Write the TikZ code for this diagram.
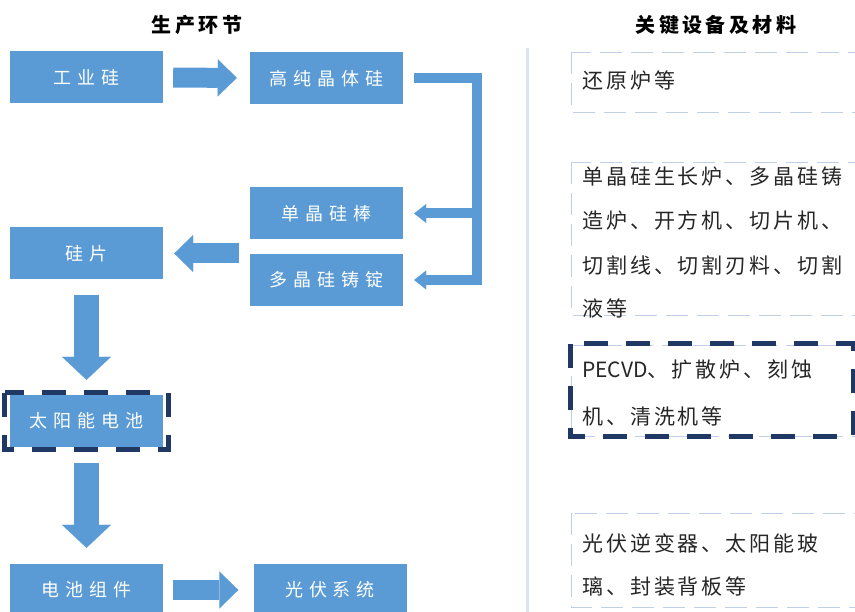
\documentclass[tikz,border=0pt]{standalone}
\usepackage{fontspec}
\setmainfont{Noto Sans CJK SC}
\newfontfamily\boxfont[LetterSpace=33]{Noto Sans CJK SC}
\newfontfamily\listfont[LetterSpace=14]{Noto Sans CJK SC}
\newfontfamily\latinfont{Noto Sans CJK SC}
\newfontfamily\titlefont[LetterSpace=17]{Noto Sans CJK SC}
\usetikzlibrary{arrows.meta}
\definecolor{boxblue}{RGB}{91,155,213}
\definecolor{navy}{RGB}{31,56,100}
\definecolor{faint}{RGB}{192,207,230}
\definecolor{sepc}{RGB}{220,228,240}
\definecolor{txt}{RGB}{38,38,38}
\tikzset{
  stage/.style={fill=boxblue, draw=none, minimum width=153pt, minimum height=52pt, inner sep=0pt, text=white, font=\boxfont\fontsize{18}{18}\selectfont},
  title/.style={text=black, font=\titlefont\bfseries\fontsize{20}{20}\selectfont},
  listtxt/.style={anchor=west, inner sep=0pt, text=txt, font=\listfont\fontsize{21}{21}\selectfont},
  harrow/.style={draw=boxblue, line width=20pt, -{Triangle[length=19pt, width=37pt, line width=0.01pt]}},
  varrow/.style={draw=boxblue, line width=25pt, -{Triangle[length=23pt, width=49pt, line width=0.01pt]}},
  bline/.style={draw=boxblue, line width=10pt, line join=miter},
  btip/.style={-{Triangle[length=12pt, width=19pt, line width=0.01pt]}},
  navydash/.style={draw=navy, line width=5pt, dash pattern=on 24pt off 18pt},
  faintbox/.style={draw=faint, line width=0.8pt, dash pattern=on 22pt off 9pt},
}
\begin{document}
\begin{tikzpicture}[x=1pt,y=-1pt]
\useasboundingbox (0,0) rectangle (855,612);
% titles
\node[title] (t1) at (197,25) {生产环节};
\node[title] (t2) at (716,25) {关键设备及材料};
% separator
\coordinate (s1) at (527,48);
\coordinate (s2) at (527,615);
\draw[draw=sepc, line width=3pt] (s1) -- (s2);
% stage boxes
\node[stage] (gyg) at (86.5,77) {工业硅};
\node[stage] (gcj) at (326.5,78.5) {高纯晶体硅};
\node[stage] (djb) at (326.5,213.5) {单晶硅棒};
\node[stage] (djd) at (326.5,280) {多晶硅铸锭};
\node[stage] (gp) at (86.5,253.5) {硅片};
\node[stage] (tyn) at (86.5,421) {太阳能电池};
\node[stage] (dczj) at (86.5,590) {电池组件};
\node[stage] (gfxt) at (330,590) {光伏系统};
% dashed highlight round solar cell
\draw[navydash] ([xshift=-5pt,yshift=2pt]tyn.north west) rectangle ([xshift=5pt,yshift=-2pt]tyn.south east);
% block arrows
\draw[harrow, shorten <=10pt, shorten >=13pt] (gyg) -- (gcj);
\draw[harrow, shorten <=11pt, shorten >=11pt] (djb.west |- gp.east) -- (gp.east);
\draw[varrow, shorten <=15pt, shorten >=15pt] (gp.south) -- (tyn.north);
\draw[varrow, shorten <=16pt, shorten >=16pt] (tyn.south) -- (dczj.north);
\draw[harrow, shorten <=10pt, shorten >=15pt] (dczj) -- (gfxt);
% bracket connector
\coordinate (rail) at (476.5,78.5);
\draw[bline, btip, shorten <=11pt, shorten >=11pt] (gcj.east) -- (rail) -- (rail |- djd.east) -- (djd.east);
\draw[bline, btip, shorten >=11pt] (rail |- djb.east) -- (djb.east);
% right column boxes
\draw[faintbox] (571,52) rectangle (862,112);
\node[listtxt] (r1) at (582,81) {还原炉等};
\draw[faintbox] (571,162) rectangle (862,315);
\node[listtxt] (r2a) at (582,177) {单晶硅生长炉、多晶硅铸};
\node[listtxt] (r2b) at (582,221) {造炉、开方机、切片机、};
\node[listtxt] (r2c) at (582,265) {切割线、切割刃料、切割};
\node[listtxt] (r2d) at (582,308) {液等};
\draw[faintbox] (571,345) rectangle (862,436);
\draw[navydash] (570,344) rectangle (853,437);
\node[listtxt] (r3a) at (582,370) {{\latinfont PECVD}、扩散炉、刻蚀};
\node[listtxt] (r3b) at (582,416) {机、清洗机等};
\draw[faintbox] (571,513) rectangle (862,607);
\node[listtxt] (r4a) at (582,543) {光伏逆变器、太阳能玻};
\node[listtxt] (r4b) at (582,587) {璃、封装背板等};
\end{tikzpicture}
\end{document}
